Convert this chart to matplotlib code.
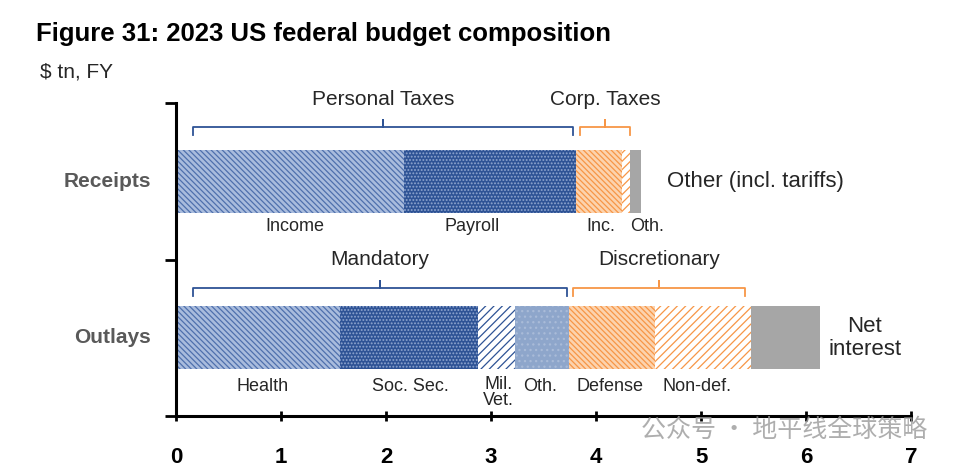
import numpy as np
import matplotlib.pyplot as plt

plt.rcParams['font.family'] = ['Liberation Sans Narrow', 'Liberation Sans', 'DejaVu Sans']
plt.rcParams['hatch.linewidth'] = 0.9

categories = ['Receipts', 'Outlays']

# $ tn, FY 2023
receipt_names = ['Income', 'Payroll', 'Inc.', 'Oth.', 'Other (incl. tariffs)']
receipt_vals = [2.17, 1.64, 0.44, 0.07, 0.11]
outlay_names = ['Health', 'Soc. Sec.', 'Mil.\nVet.', 'Oth.', 'Defense', 'Non-def.', 'Net\ninterest']
outlay_vals = [1.56, 1.32, 0.35, 0.51, 0.82, 0.92, 0.65]

xticks = [0, 1, 2, 3, 4, 5, 6, 7]

navy = '#2E5395'
orange = '#F79646'
grey = '#A6A6A6'

# (face, hatch colour, hatch)
styles = {
    'income': ('#A9BCDD', '#4F70AD', '\\\\\\\\\\\\'),
    'payroll': (navy, '#8FA6D0', '.....'),
    'milvet': ('white', navy, '////'),
    'uoth': ('#8EA6CB', '#A9BBD8', '...'),
    'dense_o': ('#FCD3AE', orange, '\\\\\\\\\\\\'),
    'sparse_o': ('white', orange, '////'),
    'grey': (grey, grey, None),
}
receipt_styles = ['income', 'payroll', 'dense_o', 'sparse_o', 'grey']
outlay_styles = ['income', 'payroll', 'milvet', 'uoth', 'dense_o', 'sparse_o', 'grey']

fig = plt.figure(figsize=(9.6, 4.67), dpi=100)
ax = fig.add_axes([0.1833, 0.1092, 0.7657, 0.6702])

def draw_row(y, vals, keys):
    left = 0
    for v, k in zip(vals, keys):
        fc, hc, h = styles[k]
        ax.barh(y, v, left=left, height=0.4, color=fc, edgecolor=hc,
                hatch=h, linewidth=0)
        left += v

draw_row(0.5, receipt_vals, receipt_styles)
draw_row(1.5, outlay_vals, outlay_styles)

def bracket(x0, x1, y, col, label):
    xm = (x0 + x1) / 2
    ax.plot([x0, x0, xm, xm, xm, x1, x1], [y + 0.05, y, y, y - 0.045, y, y, y + 0.05],
            color=col, lw=1.3, clip_on=False)
    ax.text(xm, y - 0.18, label, ha='center', va='center', fontsize=15,
            color='#262626', clip_on=False)

bracket(0.16, 3.78, 0.155, navy, 'Personal Taxes')
bracket(3.85, 4.32, 0.155, orange, 'Corp. Taxes')
bracket(0.16, 3.72, 1.18, navy, 'Mandatory')
bracket(3.78, 5.42, 1.18, orange, 'Discretionary')

# segment labels under the bars
r_lab_x = [1.13, 2.82, 4.05, 4.49]
for name, x in zip(receipt_names[:4], r_lab_x):
    ax.text(x, 0.79, name, ha='center', va='center', fontsize=13, color='#262626')
ax.text(4.68, 0.5, receipt_names[4], ha='left', va='center', fontsize=16, color='#262626')

o_lab_x = [0.82, 2.23, 3.07, 3.47, 4.13, 4.96]
for name, x in zip(outlay_names[:6], o_lab_x):
    if '\n' in name:
        ax.text(x, 1.745, name, ha='center', va='top', fontsize=13,
                color='#262626', linespacing=0.95)
    else:
        ax.text(x, 1.81, name, ha='center', va='center', fontsize=13, color='#262626')
ax.text(6.56, 1.5, outlay_names[6], ha='center', va='center', fontsize=16,
        color='#262626', linespacing=1.1)

ax.set_xlim(0, 7)
ax.set_ylim(2, 0)
ax.set_xticks(xticks)
ax.set_xticklabels([str(t) for t in xticks], fontsize=16, fontweight='bold')
ax.set_yticks([0, 1, 2])
ax.set_yticklabels([])
for y, c in zip([0.5, 1.5], categories):
    ax.text(-0.24, y, c, ha='right', va='center', fontsize=15, fontweight='bold',
            color='#595959')
for s in ['top', 'right']:
    ax.spines[s].set_visible(False)
ax.spines['left'].set_linewidth(2.2)
ax.spines['bottom'].set_linewidth(2.2)
ax.tick_params(axis='x', length=7, width=2, direction='inout', pad=19)
ax.tick_params(axis='y', length=8, width=2, direction='out')

fig.text(0.038, 0.927, 'Figure 31: 2023 US federal budget composition', fontsize=18.5,
         fontweight='bold', color='black', va='center')
fig.text(0.042, 0.845, '$ tn, FY', fontsize=15, color='#262626', va='center')

fig.text(0.668, 0.079, '公众号 · 地平线全球策略', fontsize=18, color='#9A9A9A', alpha=0.8,
         family=['Noto Sans CJK SC', 'DejaVu Sans'], va='center')

fig.savefig('out.png', dpi=100)
